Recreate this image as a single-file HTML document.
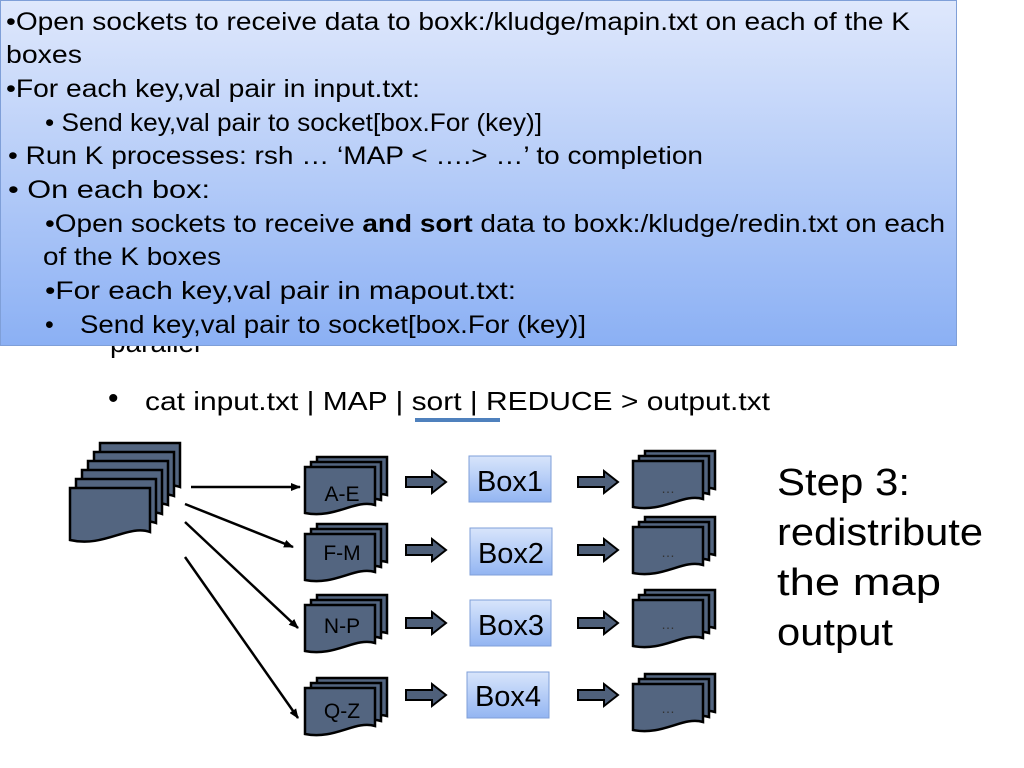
<!DOCTYPE html>
<html><head><meta charset="utf-8"><style>
html,body{margin:0;padding:0;background:#fff;}
svg{display:block;font-family:"Liberation Sans",Arial,sans-serif;}
</style></head><body>
<svg width="1024" height="768" viewBox="0 0 1024 768" xmlns="http://www.w3.org/2000/svg">
<defs>
<linearGradient id="bg" x1="0" y1="0" x2="0" y2="1">
<stop offset="0" stop-color="#dfe8fc"/><stop offset="1" stop-color="#8bb0f4"/>
</linearGradient>
<linearGradient id="bx" x1="0" y1="0" x2="0" y2="1">
<stop offset="0" stop-color="#d8e5fb"/><stop offset="1" stop-color="#93b5f2"/>
</linearGradient>
<path id="sp" d="M0 0 H70 V38 C50 32 30 52 0 46 Z" fill="#536580" stroke="#000" stroke-width="2.5"/>
<g id="stk"><use href="#sp" x="12" y="-10"/><use href="#sp" x="6" y="-5"/><use href="#sp" x="0" y="0"/></g>
<path id="bp" d="M0 0 H80 V44 C58 36 34 60 0 52 Z" fill="#536580" stroke="#000" stroke-width="2.5"/>
<path id="ba" d="M0 -5 H26 V-11 L40 0 L26 11 V5 H0 Z" fill="#4f607a" stroke="#000" stroke-width="2"/>
<marker id="ah" markerWidth="10" markerHeight="8" refX="9" refY="4" orient="auto" markerUnits="userSpaceOnUse"><path d="M0 0 L10 4 L0 8 Z" fill="#000"/></marker>
</defs>

<text x="110" y="352" font-size="28" fill="#000">parallel</text>

<rect x="0.5" y="0.5" width="956" height="345" fill="url(#bg)" stroke="#7f9fd8"/>
<g font-size="25" fill="#000">
<text x="6" y="30" textLength="904" lengthAdjust="spacingAndGlyphs">•Open sockets to receive data to boxk:/kludge/mapin.txt on each of the K</text>
<text x="6" y="63" textLength="76" lengthAdjust="spacingAndGlyphs">boxes</text>
<text x="6" y="97" textLength="414" lengthAdjust="spacingAndGlyphs">•For each key,val pair in input.txt:</text>
<text x="45" y="131" textLength="497" lengthAdjust="spacingAndGlyphs">• Send key,val pair to socket[box.For (key)]</text>
<text x="8" y="164" textLength="695" lengthAdjust="spacingAndGlyphs">• Run K processes: rsh … ‘MAP &lt; ….&gt; …’ to completion</text>
<text x="8" y="198" textLength="202" lengthAdjust="spacingAndGlyphs">• On each box:</text>
<text x="45" y="232" textLength="900" lengthAdjust="spacingAndGlyphs">•Open sockets to receive <tspan font-weight="bold">and sort</tspan> data to boxk:/kludge/redin.txt on each</text>
<text x="43" y="265" textLength="178" lengthAdjust="spacingAndGlyphs">of the K boxes</text>
<text x="45" y="299" textLength="471" lengthAdjust="spacingAndGlyphs">•For each key,val pair in mapout.txt:</text>
<text x="45" y="333">•</text>
<text x="80" y="333" textLength="506" lengthAdjust="spacingAndGlyphs">Send key,val pair to socket[box.For (key)]</text>
</g>

<text x="108" y="408" font-size="30">•</text>
<text x="145" y="410" font-size="26" textLength="625" lengthAdjust="spacingAndGlyphs">cat input.txt | MAP | sort | REDUCE &gt; output.txt</text>
<rect x="415" y="418" width="85" height="4" fill="#4f81bd"/>

<!-- input stack -->
<use href="#bp" x="100" y="443"/><use href="#bp" x="94" y="452"/><use href="#bp" x="88" y="461"/>
<use href="#bp" x="82" y="470"/><use href="#bp" x="76" y="479"/><use href="#bp" x="70" y="488"/>

<g stroke="#000" stroke-width="2.5" marker-end="url(#ah)">
<line x1="191" y1="487" x2="300" y2="487"/>
<line x1="185" y1="504" x2="293" y2="547"/>
<line x1="185" y1="522" x2="298" y2="628"/>
<line x1="185" y1="557" x2="298" y2="718"/>
</g>

<g font-size="21" fill="#000" text-anchor="middle">
<use href="#stk" x="305" y="467"/><text x="342" y="501">A-E</text>
<use href="#stk" x="305" y="534"/><text x="342" y="560">F-M</text>
<use href="#stk" x="305" y="605"/><text x="342" y="633">N-P</text>
<use href="#stk" x="305" y="688"/><text x="342" y="718">Q-Z</text>
</g>

<use href="#ba" x="406" y="482"/><use href="#ba" x="406" y="550"/><use href="#ba" x="406" y="623"/><use href="#ba" x="406" y="695"/>
<use href="#ba" x="578" y="482"/><use href="#ba" x="578" y="550"/><use href="#ba" x="578" y="623"/><use href="#ba" x="578" y="695"/>

<g stroke="#7f9fd8" stroke-width="1" fill="url(#bx)">
<rect x="469" y="456" width="82" height="46"/>
<rect x="470" y="528" width="82" height="47"/>
<rect x="470" y="600" width="81" height="46"/>
<rect x="467" y="672" width="82" height="46"/>
</g>
<g font-size="29" fill="#000" text-anchor="middle">
<text x="510" y="491">Box1</text>
<text x="511" y="563">Box2</text>
<text x="511" y="635">Box3</text>
<text x="508" y="706">Box4</text>
</g>

<g font-size="14" fill="#333" text-anchor="middle">
<use href="#stk" x="633" y="461"/><text x="668" y="493">…</text>
<use href="#stk" x="633" y="527"/><text x="668" y="557">…</text>
<use href="#stk" x="633" y="600"/><text x="668" y="629">…</text>
<use href="#stk" x="633" y="684"/><text x="668" y="713">…</text>
</g>

<g font-size="38" fill="#000">
<text x="777" y="495" textLength="133" lengthAdjust="spacingAndGlyphs">Step 3:</text>
<text x="777" y="545" textLength="206" lengthAdjust="spacingAndGlyphs">redistribute</text>
<text x="777" y="595" textLength="164" lengthAdjust="spacingAndGlyphs">the  map</text>
<text x="777" y="645" textLength="116" lengthAdjust="spacingAndGlyphs">output</text>
</g>
</svg>
</body></html>
